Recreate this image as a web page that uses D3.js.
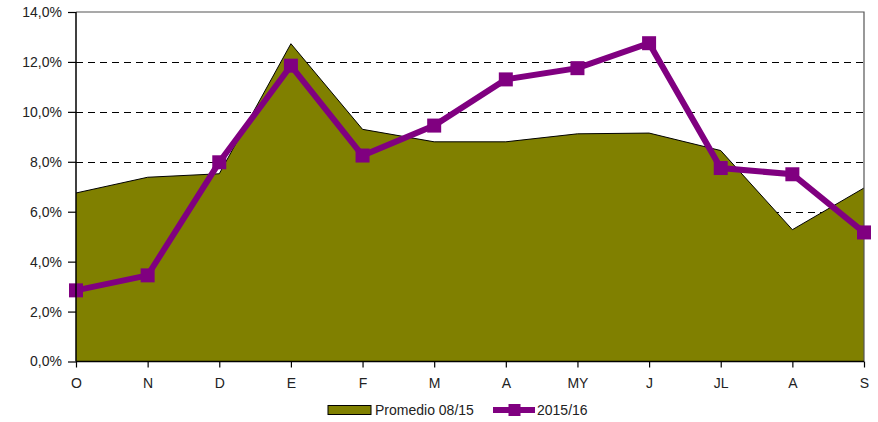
<!DOCTYPE html>
<html><head><meta charset="utf-8">
<script src="https://cdn.jsdelivr.net/npm/d3@7"></script>
<style>body{margin:0;background:#fff}svg{display:block}text{font-family:"Liberation Sans",Arial,sans-serif}</style>
</head><body>
<svg id="c" width="878" height="422"></svg>
<script>
const months = ["O","N","D","E","F","M","A","MY","J","JL","A","S"];
const promedio = [6.75,7.38,7.52,12.73,9.3,8.8,8.8,9.12,9.15,8.45,5.28,6.95];
const serie1516 = [2.85,3.45,7.98,11.85,8.25,9.45,11.3,11.75,12.75,7.75,7.5,5.17];
const yTicks = [0,2,4,6,8,10,12,14];
const gridVals = [2,4,6,8,10,12];
const seriesNames = ["Promedio 08/15","2015/16"];

const svg = d3.select("#c");
const L=76, R=864, T=12, B=361.5;
const x = d3.scalePoint().domain(d3.range(months.length)).range([L,R]);
const y = d3.scaleLinear().domain([0,14]).range([B,T]);
const fmt = v => d3.format(".1f")(v).replace(".",",")+"%";
const FS = "14px";

// gridlines
svg.append("g").selectAll("line").data(gridVals).join("line")
  .attr("x1",L).attr("x2",R).attr("y1",d=>Math.round(y(d))+0.5).attr("y2",d=>Math.round(y(d))+0.5)
  .attr("stroke","#000").attr("stroke-width",1).attr("stroke-dasharray","7,5")
  .attr("shape-rendering","crispEdges");

// area
const area = d3.area().x((d,i)=>x(i)).y0(y(0)).y1(d=>y(d));
svg.append("path").datum(promedio).attr("d",area).attr("fill","#808000");
svg.append("path").datum(promedio).attr("d",d3.line().x((d,i)=>x(i)).y(d=>y(d)))
  .attr("fill","none").attr("stroke","#000").attr("stroke-width",1);

// frame top/right
svg.append("path").attr("d",`M${L},${T}H${R}V${B}`).attr("fill","none").attr("stroke","#555").attr("stroke-width",1.2);

// line series
svg.append("path").datum(serie1516).attr("d",d3.line().x((d,i)=>x(i)).y(d=>y(d)))
  .attr("fill","none").attr("stroke","#800080").attr("stroke-width",6).attr("stroke-linejoin","miter");
svg.append("g").selectAll("rect").data(serie1516).join("rect")
  .attr("x",(d,i)=>x(i)-7).attr("y",d=>y(d)-7).attr("width",14).attr("height",14).attr("fill","#800080");

// axes
const yAxis = d3.axisLeft(y).tickValues(yTicks).tickFormat(fmt).tickSize(8).tickPadding(6);
const gy = svg.append("g").attr("transform",`translate(${L},0)`).call(yAxis);
const xAxis = d3.axisBottom(x).tickFormat(i=>months[i]).tickSize(6).tickPadding(11);
const gx = svg.append("g").attr("transform",`translate(0,${B})`).call(xAxis);
[gy,gx].forEach(g=>{
  g.select(".domain").attr("stroke","#000").attr("stroke-width",1.5);
  g.selectAll(".tick line").attr("stroke","#000").attr("stroke-width",1.2);
  g.selectAll("text").attr("fill","#222").style("font-size",FS).style("font-family","'Liberation Sans',Arial,sans-serif");
});
gx.select(".domain").attr("d",`M${L},0H${R}`);
gy.select(".domain").attr("d",`M0,${B}V${T}`);

// legend
const lg = svg.append("g");
lg.append("rect").attr("x",328).attr("y",405.5).attr("width",43).attr("height",9).attr("fill","#808000").attr("stroke","#000").attr("stroke-width",1);
lg.append("text").attr("x",375).attr("y",415).text(seriesNames[0]).attr("fill","#222").style("font-size",FS);
lg.append("line").attr("x1",493).attr("x2",535).attr("y1",410).attr("y2",410).attr("stroke","#800080").attr("stroke-width",6);
lg.append("rect").attr("x",508.5).attr("y",404).attr("width",12).attr("height",12).attr("fill","#800080");
lg.append("text").attr("x",537).attr("y",415).text(seriesNames[1]).attr("fill","#222").style("font-size",FS);
</script>
</body></html>
